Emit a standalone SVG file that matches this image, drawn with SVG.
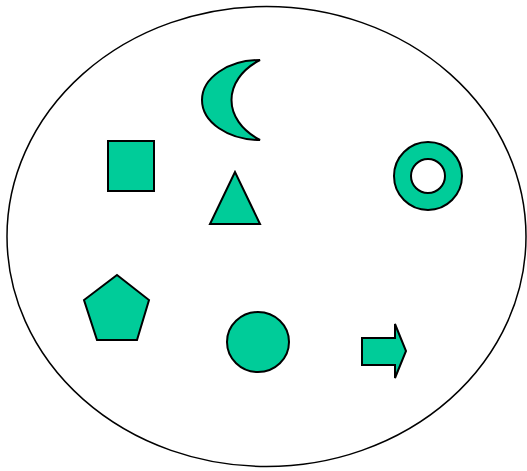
<svg xmlns="http://www.w3.org/2000/svg" width="527" height="471" viewBox="0 0 527 471">
<style>
.s{fill:#00CC99;stroke:#000;stroke-width:2;stroke-linejoin:miter}
</style>
<rect width="527" height="471" fill="#fff"/>
<g id="boundary"><ellipse cx="266.5" cy="236.5" rx="259.5" ry="230" fill="#fff" stroke="#000" stroke-width="1.5"/></g>
<g id="moon"><path class="s" d="M260,60 A58,40 0 0 0 260,140 C222,120 222,80 260,60 Z"/></g>
<g id="square"><rect class="s" x="108" y="141" width="46" height="50"/></g>
<g id="triangle"><polygon class="s" points="235,172 210,224 260,224"/></g>
<g id="ring"><path class="s" fill-rule="evenodd" d="M462,176 A34,34 0 1 0 394,176 A34,34 0 1 0 462,176 Z M445,176 A17,17 0 1 0 411,176 A17,17 0 1 0 445,176 Z"/></g>
<g id="pentagon"><polygon class="s" points="117,275 149,300 137,340 97,340 84,300"/></g>
<g id="circle"><ellipse class="s" cx="258" cy="342" rx="31" ry="30"/></g>
<g id="arrow"><polygon class="s" points="362,338 395,338 395,324 406,351 395,378 395,365 362,365"/></g>
<g id="connectors"/>
</svg>
